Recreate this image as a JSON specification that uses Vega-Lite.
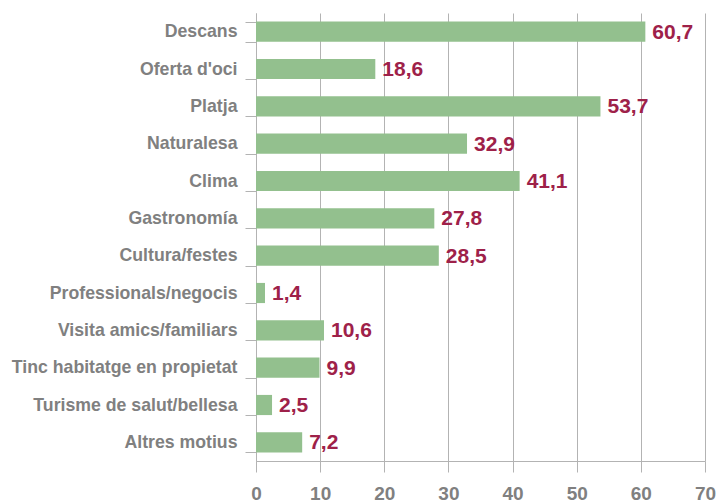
{
  "$schema": "https://vega.github.io/schema/vega-lite/v6.json",
  "autosize": {"type": "none"},
  "padding": {"left": 256, "top": 13, "right": 15, "bottom": 43},
  "width": 449,
  "height": 448,
  "background": "white",
  "config": {
    "locale": {"number": {"decimal": ",", "thousands": ".", "grouping": [3], "currency": ["", " €"]}},
    "view": {"stroke": null},
    "font": "Liberation Sans"
  },
  "data": {
    "values": [
      {"motiu": "Descans", "valor": 60.7},
      {"motiu": "Oferta d'oci", "valor": 18.6},
      {"motiu": "Platja", "valor": 53.7},
      {"motiu": "Naturalesa", "valor": 32.9},
      {"motiu": "Clima", "valor": 41.1},
      {"motiu": "Gastronomía", "valor": 27.8},
      {"motiu": "Cultura/festes", "valor": 28.5},
      {"motiu": "Professionals/negocis", "valor": 1.4},
      {"motiu": "Visita amics/familiars", "valor": 10.6},
      {"motiu": "Tinc habitatge en propietat", "valor": 9.9},
      {"motiu": "Turisme de salut/bellesa", "valor": 2.5},
      {"motiu": "Altres motius", "valor": 7.2}
    ]
  },
  "encoding": {
    "y": {
      "field": "motiu", "type": "nominal", "sort": null, "title": null,
      "scale": {"paddingInner": 0.46, "paddingOuter": 0.23},
      "axis": {
        "tickBand": "extent", "tickSize": 11, "tickColor": "#b3b3b3", "domainColor": "#b3b3b3",
        "labelFont": "Liberation Sans", "labelFontSize": 17.7, "labelFontWeight": "bold", "labelColor": "#808080",
        "labelPadding": 8, "labelLimit": 300
      }
    },
    "x": {
      "field": "valor", "type": "quantitative", "title": null,
      "scale": {"domain": [0, 70], "nice": false},
      "axis": {
        "values": [0, 10, 20, 30, 40, 50, 60, 70], "grid": true, "gridColor": "#b3b3b3",
        "tickSize": 11, "tickColor": "#b3b3b3", "domainColor": "#b3b3b3",
        "labelFont": "Liberation Sans", "labelFontSize": 19, "labelFontWeight": "bold", "labelColor": "#808080",
        "labelPadding": 12, "labelFlush": false
      }
    }
  },
  "layer": [
    {"mark": {"type": "bar", "color": "#93c08e"}},
    {
      "mark": {"type": "text", "align": "left", "baseline": "middle", "dx": 7, "dy": 1, "font": "Liberation Sans", "fontSize": 21, "fontWeight": "bold", "color": "#9e2149"},
      "encoding": {"text": {"field": "valor", "type": "quantitative", "format": ".1f"}}
    }
  ]
}
